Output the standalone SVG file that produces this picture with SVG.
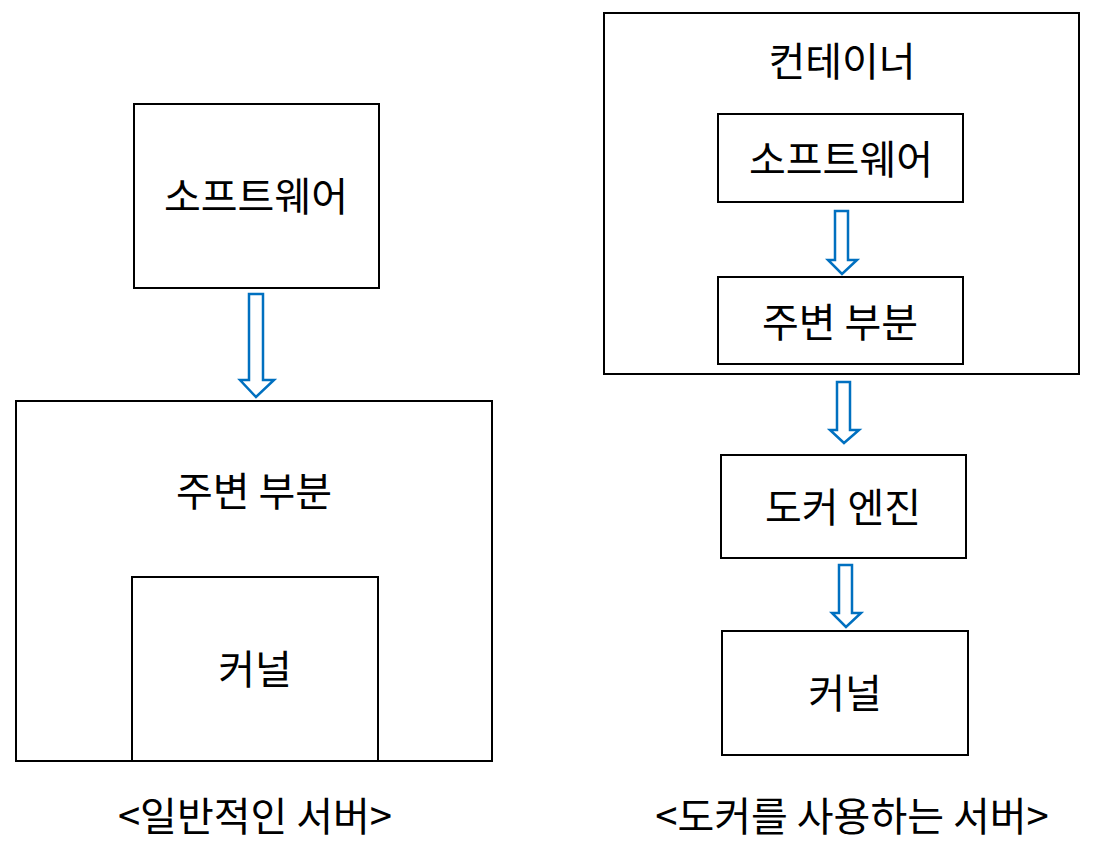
<svg xmlns="http://www.w3.org/2000/svg" width="1097" height="851" viewBox="0 0 1097 851">
<style>
.box{fill:#fff;stroke:#000;stroke-width:2}
.t{font-family:"Noto Sans CJK KR","Noto Sans",sans-serif;font-size:40px;fill:#000;text-anchor:middle;dominant-baseline:central}
.arr{fill:#fff;stroke:#0070C0;stroke-width:2.5;stroke-linejoin:miter}
</style>
<rect width="1097" height="851" fill="#fff"/>
<g id="left-server">
<g id="l-software"><rect class="box" x="134" y="104" width="245" height="184"/><text class="t" x="256" y="194">소프트웨어</text></g>
<g id="l-peripheral"><rect class="box" x="16" y="401" width="476" height="360"/><text class="t" x="254" y="489">주변 부분</text></g>
<g id="l-kernel"><rect class="box" x="132" y="577" width="246" height="184"/><text class="t" x="255" y="667">커널</text></g>
<text class="t" x="255" y="814">&lt;일반적인 서버&gt;</text>
</g>
<g id="right-server">
<g id="r-container"><rect class="box" x="604" y="13" width="475" height="361"/><text class="t" x="842" y="59">컨테이너</text></g>
<g id="r-software"><rect class="box" x="718" y="114" width="245" height="88"/><text class="t" x="841" y="157">소프트웨어</text></g>
<g id="r-peripheral"><rect class="box" x="718" y="277" width="245" height="87"/><text class="t" x="840" y="320">주변 부분</text></g>
<g id="r-docker"><rect class="box" x="721" y="455" width="245" height="103"/><text class="t" x="843" y="505">도커 엔진</text></g>
<g id="r-kernel"><rect class="box" x="722" y="631" width="246" height="124"/><text class="t" x="845" y="691">커널</text></g>
<text class="t" x="852" y="814">&lt;도커를 사용하는 서버&gt;</text>
</g>
<g id="connectors">
<polygon class="arr" points="249,294 263,294 263,380 274,380 256,397 240,380 249,380"/>
<polygon class="arr" points="835,211 848,211 848,260 857,260 842,274 828,260 835,260"/>
<polygon class="arr" points="837,382 850,382 850,430 859,430 844,443 830,430 837,430"/>
<polygon class="arr" points="839,565 852,565 852,613 861,613 846,627 832,613 839,613"/>
</g>
</svg>
